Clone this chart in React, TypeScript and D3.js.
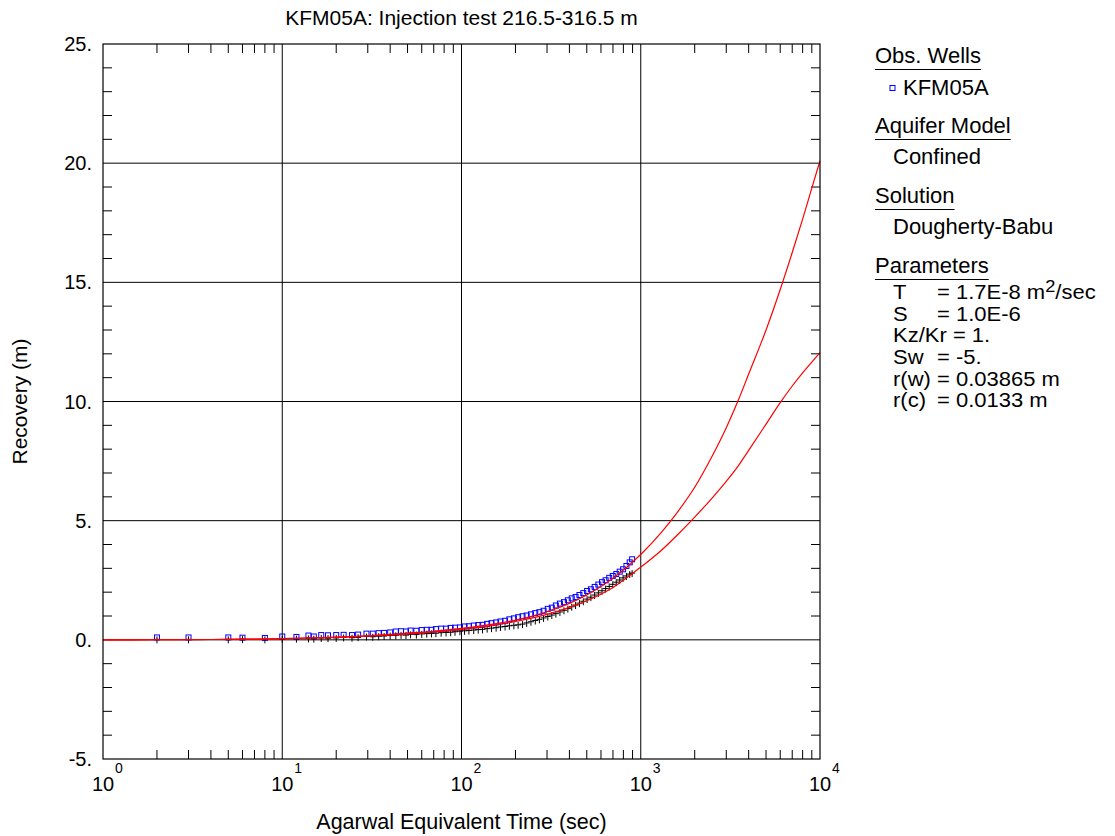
import React, { useRef, useLayoutEffect, useState } from "react";
import * as d3 from "d3";

const title = "KFM05A: Injection test 216.5-316.5 m";
const xLabel = "Agarwal Equivalent Time (sec)";
const yLabel = "Recovery (m)";

const yTickValues = [-5, 0, 5, 10, 15, 20, 25];
const xDecadeExps = [0, 1, 2, 3, 4];

const obsTimes = [2, 3, 5, 6, 8, 10, 12, 14, 15, 16.5, 18, 20, 22, 24.5, 26.5, 29.5, 32, 34.5, 37, 40, 43, 46, 49, 52, 56, 60, 64, 68, 72, 77, 82, 87, 92, 98, 104, 110, 117, 124, 131, 139, 147, 156, 165, 175, 185, 196, 207, 219, 231, 244, 258, 272, 287, 303, 319, 336, 354, 373, 392, 412, 433, 455, 478, 502, 527, 553, 580, 608, 637, 667, 698, 730, 763, 797, 832, 868, 895];
const obsBlue = [0.10, 0.10, 0.10, 0.09, 0.08, 0.14, 0.12, 0.18, 0.14, 0.20, 0.19, 0.20, 0.21, 0.20, 0.22, 0.26, 0.26, 0.28, 0.29, 0.31, 0.35, 0.36, 0.35, 0.39, 0.38, 0.41, 0.42, 0.42, 0.45, 0.47, 0.47, 0.50, 0.51, 0.52, 0.56, 0.57, 0.60, 0.62, 0.63, 0.67, 0.70, 0.73, 0.77, 0.80, 0.86, 0.90, 0.95, 0.99, 1.02, 1.07, 1.12, 1.16, 1.22, 1.30, 1.35, 1.44, 1.52, 1.58, 1.66, 1.74, 1.80, 1.88, 1.96, 2.05, 2.12, 2.22, 2.32, 2.42, 2.50, 2.60, 2.68, 2.76, 2.86, 2.96, 3.10, 3.25, 3.38];
const obsBlack = [0.02, 0.02, 0.02, 0.03, 0.02, 0.04, 0.05, 0.06, 0.05, 0.08, 0.07, 0.08, 0.10, 0.09, 0.11, 0.14, 0.13, 0.15, 0.16, 0.18, 0.19, 0.21, 0.20, 0.23, 0.22, 0.25, 0.26, 0.27, 0.28, 0.30, 0.31, 0.32, 0.34, 0.36, 0.38, 0.39, 0.41, 0.43, 0.44, 0.47, 0.49, 0.51, 0.54, 0.56, 0.59, 0.61, 0.63, 0.66, 0.71, 0.76, 0.81, 0.86, 0.92, 0.98, 1.04, 1.10, 1.17, 1.24, 1.31, 1.39, 1.46, 1.54, 1.62, 1.71, 1.79, 1.88, 1.97, 2.06, 2.15, 2.24, 2.33, 2.42, 2.51, 2.60, 2.68, 2.76, 2.80];

const curveTimes = [1, 2, 3, 5, 7, 10, 15, 20, 30, 50, 70, 100, 150, 200, 300, 400, 500, 700, 1000, 1300, 1600, 2000, 2500, 3000, 3500, 4000, 5000, 6000, 7000, 8000, 9000, 10000];
const curveUpper = [0, 0.003, 0.008, 0.02, 0.03, 0.05, 0.08, 0.11, 0.17, 0.28, 0.36, 0.48, 0.66, 0.83, 1.18, 1.53, 1.88, 2.58, 3.58, 4.50, 5.35, 6.40, 7.70, 8.90, 10.05, 11.15, 13.00, 14.70, 16.25, 17.65, 18.95, 20.1];
const curveLower = [0, 0.003, 0.008, 0.02, 0.03, 0.05, 0.08, 0.10, 0.16, 0.25, 0.33, 0.44, 0.61, 0.77, 1.07, 1.36, 1.64, 2.20, 3.05, 3.75, 4.40, 5.15, 5.95, 6.65, 7.30, 7.95, 9.05, 9.95, 10.65, 11.20, 11.65, 12.05];

const legendWell = "KFM05A";
const legendModel = "Confined";
const legendSolution = "Dougherty-Babu";
const paramNames = ["T", "S", "", "Sw", "r(w)", "r(c)"];
const paramValues = ["= 1.7E-8 m", "= 1.0E-6", "Kz/Kr = 1.", "= -5.", "= 0.03865 m", "= 0.0133 m"];

const FONT = "Arial, 'Liberation Sans', sans-serif";
const FS = 20;
const LFS = 22;
const TFS = 21;
const PFS = 19.3;

function UText({ x, y, text }: { x: number; y: number; text: string }) {
  const ref = useRef<SVGTextElement>(null);
  const [w, setW] = useState(0);
  useLayoutEffect(() => {
    if (ref.current) setW(ref.current.getComputedTextLength());
  }, [text]);
  return (
    <g>
      <text ref={ref} x={x} y={y} fontSize={LFS} fontFamily={FONT} fill="#000">{text}</text>
      <line x1={x} x2={x + w} y1={y + 6.5} y2={y + 6.5} stroke="#000" strokeWidth={1} />
    </g>
  );
}

export default function App() {
  const W = 1115, H = 836;
  const L = 103, R = 820, T = 44, B = 759;
  const x = d3.scaleLog().domain([1, 1e4]).range([L, R]);
  const y = d3.scaleLinear().domain([-5, 25]).range([B, T]);

  const minorX = x.ticks().filter((v) => Math.abs(Math.log10(v) - Math.round(Math.log10(v))) > 1e-9);
  const majorX = xDecadeExps.map((e) => Math.pow(10, e));
  const minorY = d3.range(-5, 26, 1).filter((v) => v % 5 !== 0);
  const tickLen = 9;

  const line = d3.line<[number, number]>().x((d) => x(d[0])).y((d) => y(d[1])).curve(d3.curveMonotoneX);
  const upperPts = curveTimes.map((t, i) => [t, curveUpper[i]] as [number, number]);
  const lowerPts = curveTimes.map((t, i) => [t, curveLower[i]] as [number, number]);

  const lx = 875;
  const px0 = 893;
  const sx = LFS / PFS;
  return (
    <svg width={W} height={H} style={{ position: "absolute", left: 0, top: 0, background: "#fff" }}>
      <rect x={0} y={0} width={W} height={H} fill="#fff" />
      {majorX.slice(1, -1).map((v) => (
        <line key={"gx" + v} x1={x(v)} x2={x(v)} y1={T} y2={B} stroke="#000" strokeWidth={1} />
      ))}
      {yTickValues.slice(1, -1).map((v) => (
        <line key={"gy" + v} x1={L} x2={R} y1={y(v)} y2={y(v)} stroke="#000" strokeWidth={1} />
      ))}
      {minorX.map((v) => (
        <g key={"mx" + v}>
          <line x1={x(v)} x2={x(v)} y1={B} y2={B - tickLen} stroke="#000" />
          <line x1={x(v)} x2={x(v)} y1={T} y2={T + tickLen} stroke="#000" />
        </g>
      ))}
      {minorY.map((v) => (
        <g key={"my" + v}>
          <line x1={L} x2={L + tickLen} y1={y(v)} y2={y(v)} stroke="#000" />
          <line x1={R} x2={R - tickLen} y1={y(v)} y2={y(v)} stroke="#000" />
        </g>
      ))}
      {obsTimes.map((t, i) => (
        <rect key={"b" + i} x={x(t) - 2.5} y={y(obsBlue[i]) - 2.5} width={5} height={5} fill="none" stroke="#0000ff" strokeWidth={1} />
      ))}
      {obsTimes.map((t, i) => (
        <path key={"k" + i} d={`M${x(t) - 3},${y(obsBlack[i])}h6M${x(t)},${y(obsBlack[i]) - 3}v7`} stroke="#000" strokeWidth={1} fill="none" />
      ))}
      <path d={line(upperPts) || ""} fill="none" stroke="#ff0000" strokeWidth={1.2} />
      <path d={line(lowerPts) || ""} fill="none" stroke="#ff0000" strokeWidth={1.2} />
      <rect x={L} y={T} width={R - L} height={B - T} fill="none" stroke="#000" strokeWidth={1.2} />
      {yTickValues.map((v) => (
        <text key={"yl" + v} x={92} y={y(v) + 7} textAnchor="end" fontSize={FS} fontFamily={FONT}>{v + "."}</text>
      ))}
      {majorX.map((v, i) => (
        <g key={"xl" + v}>
          <text x={x(v)} y={791} textAnchor="middle" fontSize={FS} fontFamily={FONT}>10</text>
          <text x={x(v) + 12} y={773} fontSize={14} fontFamily={FONT}>{xDecadeExps[i]}</text>
        </g>
      ))}
      <text x={(L + R) / 2} y={25} textAnchor="middle" fontSize={TFS} fontFamily={FONT}>{title}</text>
      <text x={(L + R) / 2} y={829} textAnchor="middle" fontSize={21.5} fontFamily={FONT}>{xLabel}</text>
      <text transform={`translate(27,${(T + B) / 2}) rotate(-90)`} textAnchor="middle" fontSize={TFS} fontFamily={FONT}>{yLabel}</text>
      <UText x={lx} y={63} text="Obs. Wells" />
      <rect x={890} y={85.5} width={5} height={5} fill="none" stroke="#0000ff" strokeWidth={1} />
      <text x={903} y={95} fontSize={LFS} fontFamily={FONT}>{legendWell}</text>
      <UText x={lx} y={133} text="Aquifer Model" />
      <text x={893} y={164} fontSize={LFS} fontFamily={FONT}>{legendModel}</text>
      <UText x={lx} y={203} text="Solution" />
      <text x={893} y={234} fontSize={LFS} fontFamily={FONT}>{legendSolution}</text>
      <UText x={lx} y={273} text="Parameters" />
      <g transform={`translate(${px0},0) scale(${sx},1)`}>
        {paramValues.map((val, i) => (
          <g key={"p" + i}>
            {paramNames[i] ? (
              <text x={0} y={299 + i * 21.7} fontSize={PFS} fontFamily={FONT}>{paramNames[i]}</text>
            ) : null}
            <text x={paramNames[i] ? (937 - px0) / sx : 0} y={299 + i * 21.7} fontSize={PFS} fontFamily={FONT}>
              {val}
              {i === 0 ? (
                <>
                  <tspan fontSize={16} dy={-7}>2</tspan>
                  <tspan dy={7}>/sec</tspan>
                </>
              ) : null}
            </text>
          </g>
        ))}
      </g>
    </svg>
  );
}
